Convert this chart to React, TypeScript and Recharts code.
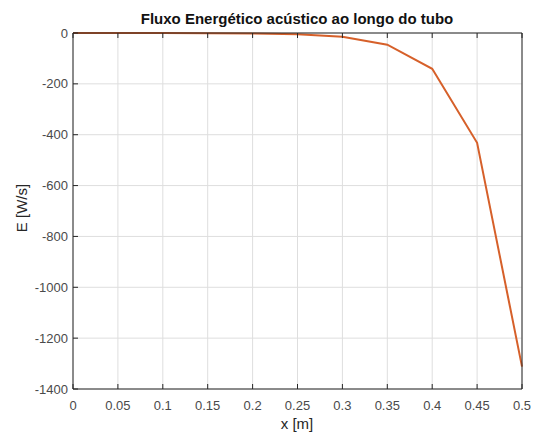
import React from 'react';
import { LineChart, Line, XAxis, YAxis, CartesianGrid } from 'recharts';

const xPositions = [0, 0.05, 0.1, 0.15, 0.2, 0.25, 0.3, 0.35, 0.4, 0.45, 0.5];
const energyFlux = [-0.02, -0.05, -0.15, -0.5, -1.5, -4.6, -15, -46, -141, -432, -1312];
const xTicks = [0, 0.05, 0.1, 0.15, 0.2, 0.25, 0.3, 0.35, 0.4, 0.45, 0.5];
const yTicks = [0, -200, -400, -600, -800, -1000, -1200, -1400];

const data = xPositions.map((x, i) => ({ x, e: energyFlux[i] }));

const fmtX = (v: number) => String(+v.toFixed(2));
const font = 'Liberation Sans, Arial, sans-serif';
const axisColor = '#262626';
const labelColor = '#4a4a4a';
const TS = 13;

const BottomTick = (props: any) => {
  const { x, y, payload } = props;
  return (
    <g>
      <line x1={x} y1={y} x2={x} y2={y - 5} stroke={axisColor} strokeWidth={1} />
      <text x={x} y={y + 12} dy="0.71em" textAnchor="middle" fontFamily={font} fontSize={TS} fill={labelColor}>
        {fmtX(payload.value)}
      </text>
    </g>
  );
};
const TopTick = (props: any) => {
  const { x, y } = props;
  return <line x1={x} y1={y} x2={x} y2={y + 5} stroke={axisColor} strokeWidth={1} />;
};
const LeftTick = (props: any) => {
  const { x, y, payload } = props;
  return (
    <g>
      <line x1={x} y1={y} x2={x + 5} y2={y} stroke={axisColor} strokeWidth={1} />
      <text x={x - 5} y={y} dy="0.355em" textAnchor="end" fontFamily={font} fontSize={TS} fill={labelColor}>
        {String(payload.value)}
      </text>
    </g>
  );
};
const RightTick = (props: any) => {
  const { x, y } = props;
  return <line x1={x} y1={y} x2={x - 5} y2={y} stroke={axisColor} strokeWidth={1} />;
};

export default function App() {
  return (
    <div style={{ position: 'absolute', left: 0, top: 0, width: 536, height: 432, background: '#fff' }}>
      <svg width={536} height={432} style={{ position: 'absolute', left: 0, top: 0, pointerEvents: 'none', zIndex: 2 }}>
        <text x={297} y={24} textAnchor="middle" fontFamily={font} fontSize={15} fontWeight="bold" fill="#111">
          Fluxo Energético acústico ao longo do tubo
        </text>
        <text x={297} y={429} textAnchor="middle" fontFamily={font} fontSize={15} fill="#262626">
          x [m]
        </text>
        <text x={27} y={208} textAnchor="middle" fontFamily={font} fontSize={15} fill="#262626" transform="rotate(-90 27 208)">
          E [W/s]
        </text>
      </svg>
      <LineChart width={536} height={432} data={data} margin={{ top: 32, right: 13, bottom: 13, left: 13 }}>
        <CartesianGrid stroke="#dedede" strokeWidth={1} xAxisId="b" yAxisId="l" />
        <XAxis
          xAxisId="b"
          type="number"
          dataKey="x"
          domain={[0, 0.5]}
          ticks={xTicks}
          height={30}
          interval={0}
          tickSize={0}
          tickMargin={0}
          tick={<BottomTick />}
          axisLine={{ stroke: axisColor }}
          tickLine={false}
        />
        <XAxis
          xAxisId="t"
          orientation="top"
          type="number"
          dataKey="x"
          domain={[0, 0.5]}
          ticks={xTicks}
          height={1}
          interval={0}
          tickSize={0}
          tickMargin={0}
          tick={<TopTick />}
          axisLine={{ stroke: axisColor }}
          tickLine={false}
        />
        <YAxis
          yAxisId="l"
          type="number"
          domain={[-1400, 0]}
          ticks={yTicks}
          width={60}
          interval={0}
          tickSize={0}
          tickMargin={0}
          tick={<LeftTick />}
          axisLine={{ stroke: axisColor }}
          tickLine={false}
        />
        <YAxis
          yAxisId="r"
          orientation="right"
          type="number"
          domain={[-1400, 0]}
          ticks={yTicks}
          width={1}
          interval={0}
          tickSize={0}
          tickMargin={0}
          tick={<RightTick />}
          axisLine={{ stroke: axisColor }}
          tickLine={false}
        />
        <Line
          xAxisId="b"
          yAxisId="l"
          type="linear"
          dataKey="e"
          stroke="#D6602A"
          strokeWidth={2}
          dot={false}
          isAnimationActive={false}
        />
      </LineChart>
    </div>
  );
}
